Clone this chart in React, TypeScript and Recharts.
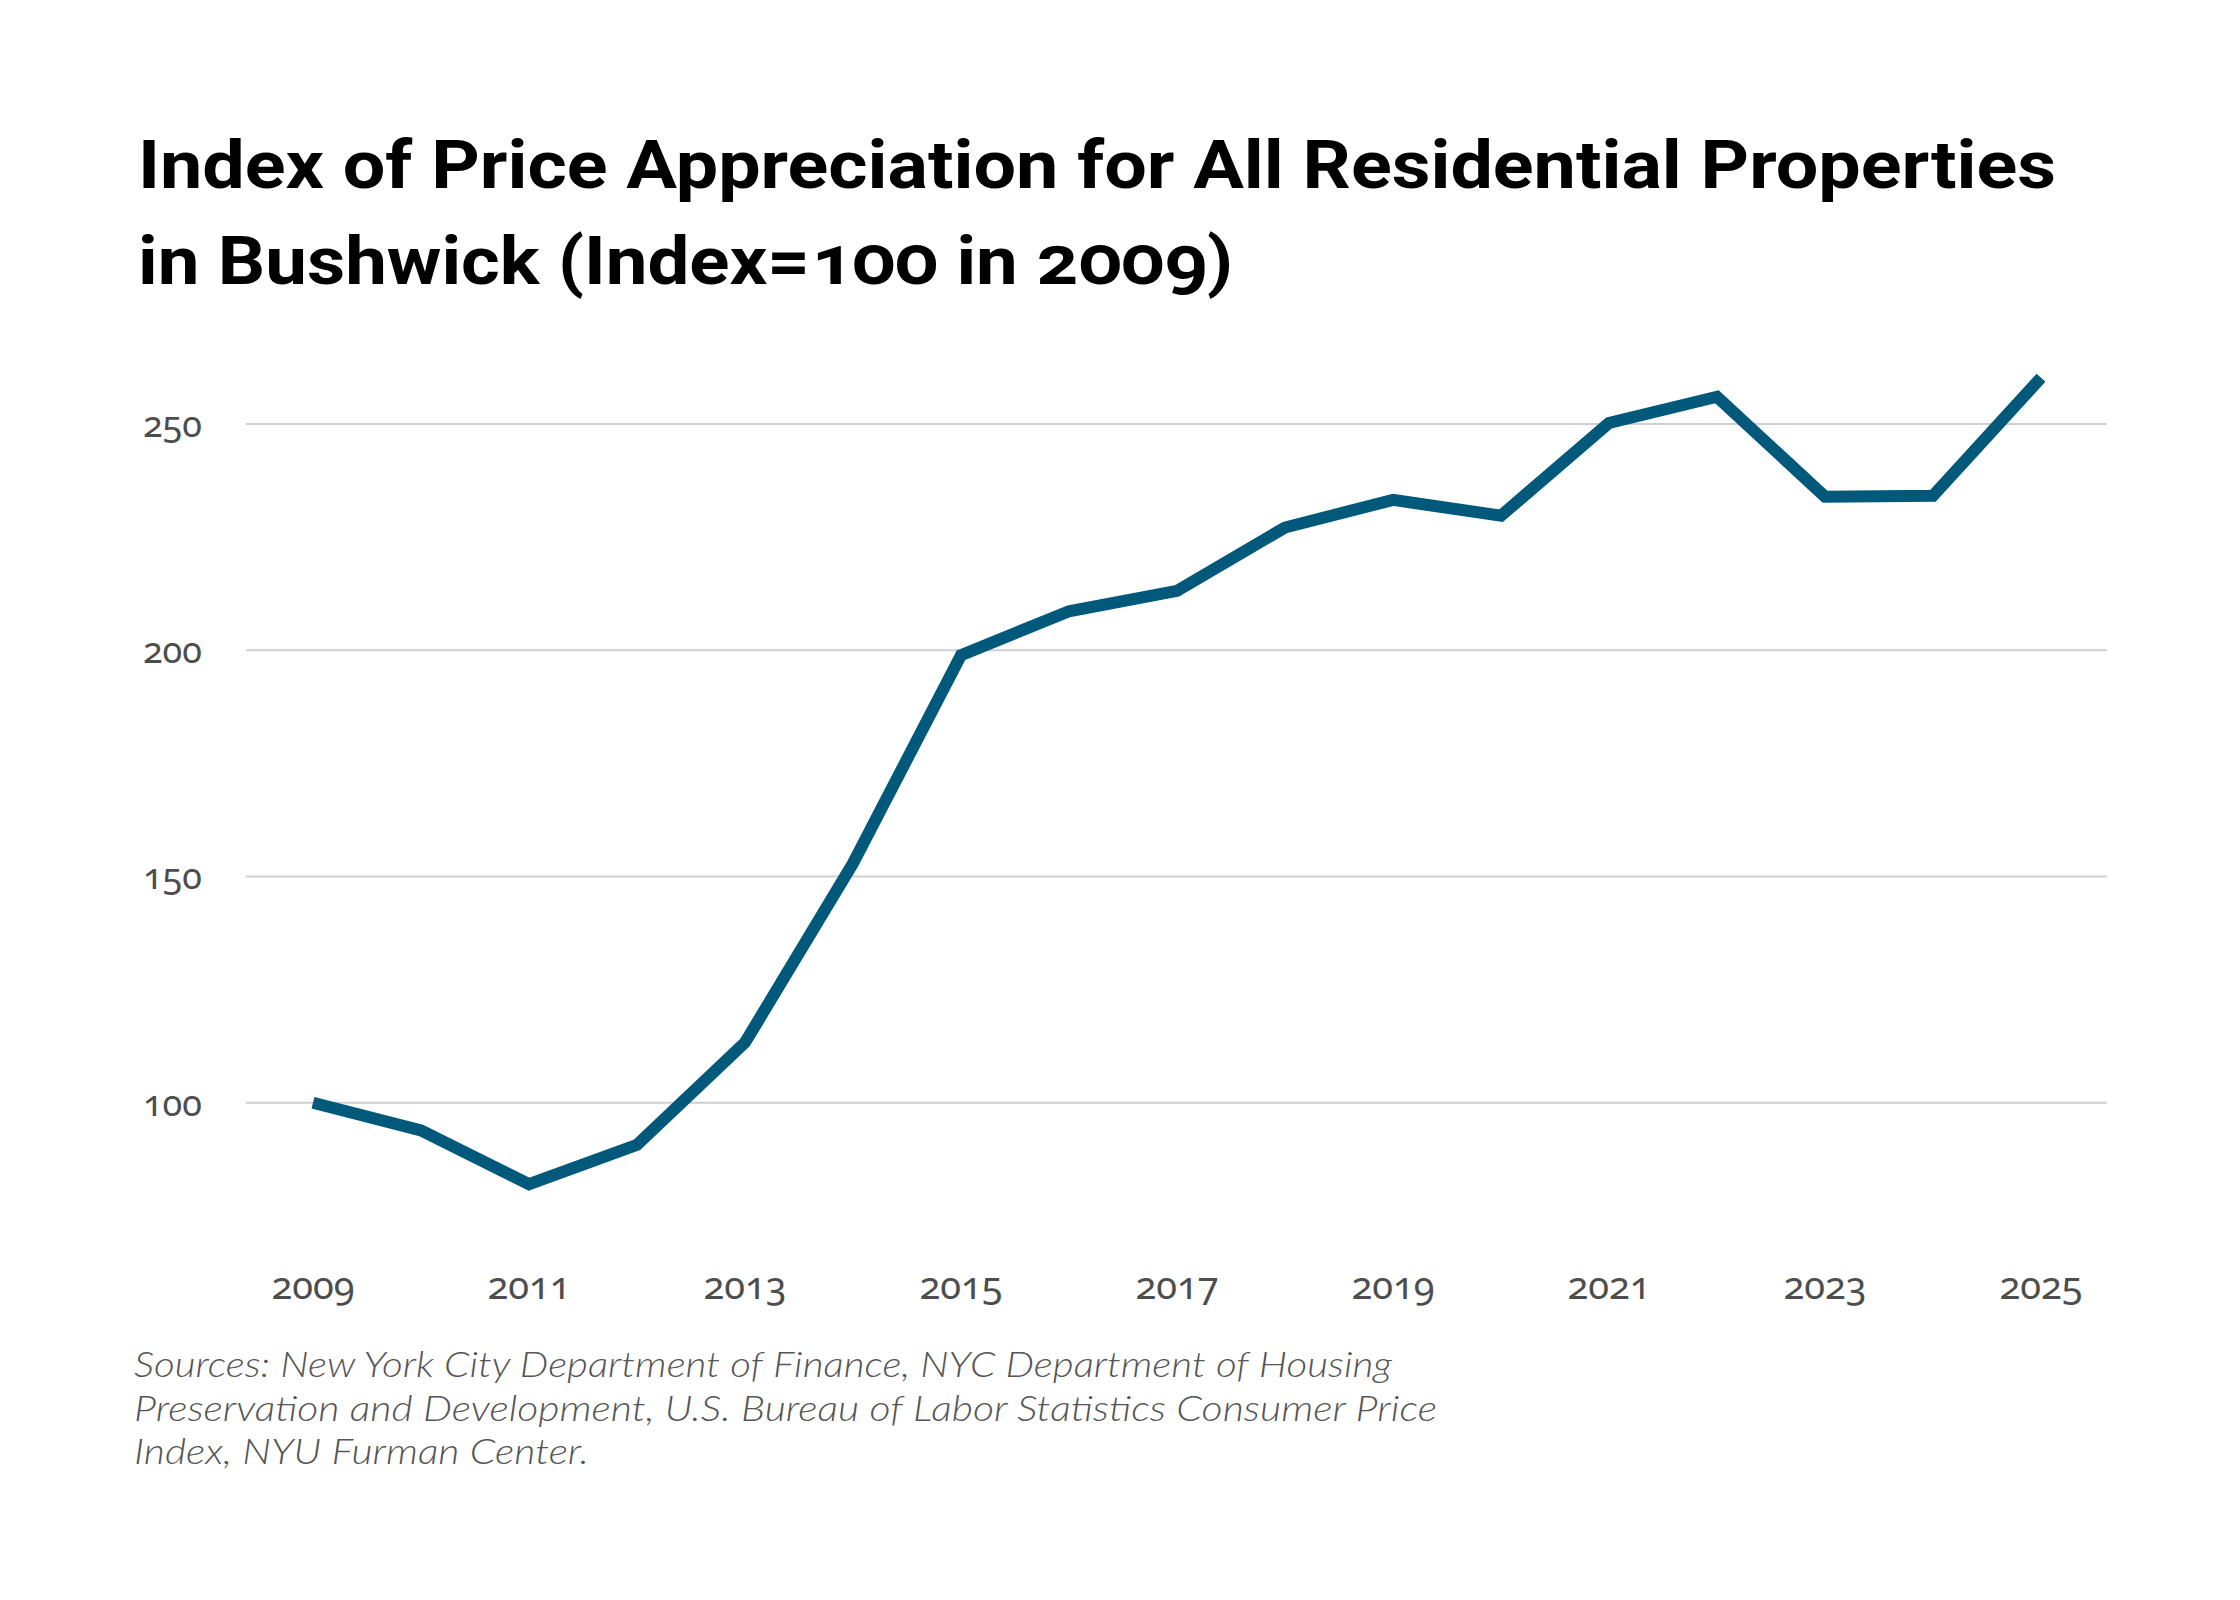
import React from 'react';
import { LineChart, Line, XAxis, YAxis, CartesianGrid } from 'recharts';

const years = [2009, 2010, 2011, 2012, 2013, 2014, 2015, 2016, 2017, 2018, 2019, 2020, 2021, 2022, 2023, 2024, 2025];
const indexValues = [100, 93.9, 82.0, 90.7, 113.3, 152.9, 198.9, 208.6, 213.1, 227.1, 233.2, 229.7, 250.2, 256.0, 233.9, 234.1, 260.2];
const yTicks = [100, 150, 200, 250];
const titleLines = [
  'Index of Price Appreciation for All Residential Properties',
  'in Bushwick (Index=100 in 2009)',
];
const sourceLines = [
  'Sources: New York City Department of Finance, NYC Department of Housing',
  'Preservation and Development, U.S. Bureau of Labor Statistics Consumer Price',
  'Index, NYU Furman Center.',
];

const data = years.map((y, i) => ({ year: String(y), value: indexValues[i] }));

const AXIS_FONT = '"Noto Sans", sans-serif';
const numStyle: React.CSSProperties = { fontVariantNumeric: 'oldstyle-nums', fontFeatureSettings: '"onum" 1' };

const titleWidths = [1918, 1095];
const sourceWidths = [1258, 1303, 455];

const YTick = (props: any) => {
  const { x, y, payload } = props;
  return (
    <text x={x} y={y} dy={13} textAnchor="end" fontSize={36} fill="#4d4d4d" fontFamily={AXIS_FONT} style={numStyle}>
      {payload.value}
    </text>
  );
};

const XTick = (props: any) => {
  const { x, y, payload } = props;
  return (
    <text x={x} y={y + 60} textAnchor="middle" fontSize={38} fill="#4d4d4d" fontFamily={AXIS_FONT} style={numStyle}>
      {payload.value}
    </text>
  );
};

export default function App() {
  return (
    <div style={{ position: 'absolute', left: 0, top: 0, width: 2240, height: 1600, background: '#ffffff' }}>
      <svg width={2240} height={1600} style={{ position: 'absolute', left: 0, top: 0 }}>
        {titleLines.map((t, i) => (
          <text
            key={i}
            x={138}
            y={188 + i * 96}
            fontSize={66}
            fontWeight={700}
            fill="#000000"
            fontFamily="Roboto, sans-serif"
            style={numStyle}
            textLength={titleWidths[i]}
            lengthAdjust="spacingAndGlyphs"
          >
            {t}
          </text>
        ))}
        {sourceLines.map((s, i) => (
          <text
            key={i}
            x={134}
            y={1377 + i * 43.5}
            fontSize={35}
            fontStyle="italic"
            fontWeight={300}
            fill="#555555"
            fontFamily="Lato, sans-serif"
            textLength={sourceWidths[i]}
            lengthAdjust="spacingAndGlyphs"
          >
            {s}
          </text>
        ))}
      </svg>
      <div style={{ position: 'absolute', left: 0, top: 0 }}>
        <LineChart width={2240} height={1600} data={data} margin={{ top: 356, right: 133, bottom: 301.5, left: 0 }}>
          <CartesianGrid vertical={false} horizontalValues={yTicks} stroke="#cfcfcf" strokeWidth={2} />
          <XAxis
            dataKey="year"
            type="category"
            interval={1}
            padding={{ left: 67, right: 66 }}
            axisLine={false}
            tickLine={false}
            tickSize={0}
            tickMargin={0}
            height={60}
            tick={<XTick />}
          />
          <YAxis
            type="number"
            domain={[70, 265]}
            ticks={yTicks}
            width={246}
            axisLine={false}
            tickLine={false}
            tickSize={0}
            tickMargin={44}
            tick={<YTick />}
          />
          <Line
            type="linear"
            dataKey="value"
            stroke="#00597a"
            strokeWidth={12}
            dot={false}
            activeDot={false}
            isAnimationActive={false}
          />
        </LineChart>
      </div>
    </div>
  );
}
